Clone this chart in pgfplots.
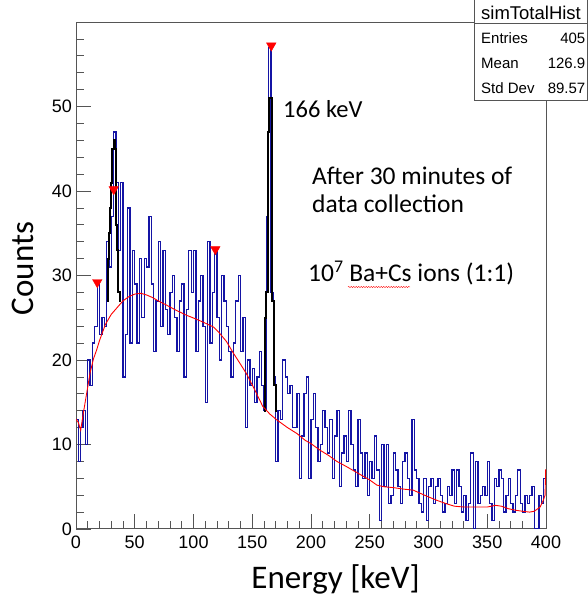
\documentclass[border=0pt]{standalone}
\usepackage{pgfplots}
\pgfplotsset{compat=1.18}
\usepackage{fontspec}
\setmainfont{Liberation Sans}
\newfontfamily\carlito{Carlito}
\usetikzlibrary{decorations.pathmorphing}
\definecolor{histblue}{RGB}{20,20,165}
\definecolor{framegray}{RGB}{85,85,85}
\begin{document}
\begin{tikzpicture}
\useasboundingbox (0,0) rectangle (588pt,600pt);
\begin{axis}[
  at={(76pt,71pt)}, anchor=south west, scale only axis,
  width=470pt, height=507pt,
  xmin=0, xmax=400, ymin=0, ymax=60,
  xtick={0,50,...,400}, ytick={0,10,...,50},
  minor xtick={10,20,...,390}, minor ytick={2,4,...,58},
  tick align=inside, xtick pos=bottom, ytick pos=left,
  major tick length=15pt, minor tick length=7.5pt,
  tick style={framegray, line width=0.8pt},
  axis line style={framegray, line width=1pt},
  /pgf/number format/assume math mode=true,
  tick label style={font=\fontsize{18}{18}\selectfont},
  xticklabel style={inner sep=0pt, yshift=-7pt},
  yticklabel style={inner sep=0pt, xshift=-4pt},
]
% measured histogram (2 keV bins, low edges)
\addplot[const plot mark left, histblue, line width=1.3pt] coordinates {
(0,13)(2,8)(4,12)(6,14)(8,10)(10,20)(12,17)(14,22)(16,24)(18,29)
(20,23)(22,25)(24,24)(26,34)(28,31)(30,37)(32,47)(34,41)(36,33)(38,41)
(40,18)(42,23)(44,38)(46,22)(48,33)(50,29)(52,22)(54,32)(56,25)(58,32)
(60,31)(62,37)(64,29)(66,21)(68,27)(70,34)(72,24)(74,33)(76,26)(78,23)
(80,28)(82,30)(84,25)(86,21)(88,27)(90,29)(92,18)(94,26)(96,33)(98,28)
(100,33)(102,21)(104,27)(106,30)(108,24)(110,15)(112,34)(114,22)(116,28)(118,33)
(120,25)(122,20)(124,30)(126,27)(128,24)(130,21)(132,18)(134,22)(136,27)(138,30)
(140,21)(142,25)(144,12)(146,20)(148,17)(150,19)(152,15)(154,18)(156,21)(158,17)
(160,14)(162,37)(164,57)(166,28)(168,18)(170,8)(172,14)(174,13)(176,20)(178,18)
(180,16)(182,17)(184,12)(186,12)(188,16)(190,6)(192,11)(194,16)(196,18)(198,6)
(200,13)(202,16)(204,12)(206,8)(208,10)(210,14)(212,12)(214,9)(216,13)(218,6)
(220,11)(222,14)(224,5)(226,9)(228,11)(230,8)(232,14)(234,10)(236,7)(238,5)
(240,13)(242,9)(244,6)(246,9)(248,4)(250,8)(252,6)(254,11)(256,7)(258,1)
(260,10)(262,5)(264,10)(266,3)(268,4)(270,9)(272,7)(274,5)(276,3)(278,8)
(280,9)(282,6)(284,4)(286,13)(288,7)(290,6)(292,3)(294,2)(296,6)(298,1)
(300,5)(302,6)(304,3)(306,5)(308,6)(310,4)(312,2)(314,3)(316,5)(318,4)
(320,7)(322,3)(324,7)(326,5)(328,2)(330,4)(332,1)(334,3)(336,9)(338,0)
(340,8)(342,3)(344,4)(346,5)(348,4)(350,8)(352,3)(354,1)(356,6)(358,5)
(360,7)(362,6)(364,2)(366,4)(368,6)(370,3)(372,2)(374,4)(376,7)(378,3)
(380,2)(382,4)(384,3)(386,4)(388,5)(390,0)(392,0)(394,4)(396,3)(398,6)
(400,6)};
% peak histograms
\addplot[const plot mark left, black, line width=2pt] coordinates {
(26,27)(27,32)(28,35)(29,38)(30,41)(31,45)(32,46)(33,45)(34,36)(35,33)(36,28)(37.5,27)(38,27)};
\addplot[const plot mark left, black, line width=2pt] coordinates {
(160,14)(161,25)(162,28)(163,37)(163.7,47)(164.5,51)(167,27)(168.5,17)(170,14)(171,14)};
% background
\addplot[red, line width=0.9pt] coordinates {
(0,13)(2,12.6)(4,11.7)(6,13.5)(9,16)(12,18.5)(15,20.2)(17.6,21.2)(20,22.3)(25,24.2)
(30,25.4)(35,26.2)(40,27)(45,27.5)(50,27.8)(55,27.9)(60,27.7)(65,27.4)(70,27.0)(77,26.5)
(85,25.9)(94,25.3)(103,24.8)(111,24.3)(117,23.9)(122,23.2)(128,22.2)(134,20.8)(140,19.5)(145,18.4)
(152,16.5)(159,14.5)(165,13.6)(171,12.9)(180,12.0)(188,11.3)(195,10.5)(200,10.1)(208,9.3)(215,8.7)
(222,8.0)(230,7.4)(240,6.6)(250,5.8)(256,5.2)(262,5.0)(270,4.9)(280,4.7)(287,4.6)(295,4.1)
(300,3.8)(307,3.4)(315,3.0)(322,2.7)(330,2.6)(340,2.6)(350,2.6)(357,2.8)(362,2.7)(368,2.4)
(375,2.2)(380,2.1)(386,2.0)(390,2.1)(395,2.6)(397.7,3.4)(399.2,4)(399.7,7)(400,7)};
% peak markers
\addplot[only marks, mark=triangle*, mark size=5.5pt, red,
  mark options={rotate=180, fill=red, draw=red}] coordinates {
(18.1,29.2)(32.1,40.2)(118.6,33.1)(166.2,57.2)};
\end{axis}
% stats box
\draw[framegray, line width=1pt, fill=white] (474.5pt,499pt) rectangle (587.5pt,601pt);
\draw[framegray, line width=1pt] (474.5pt,576pt) -- (587.5pt,576pt);
\node[anchor=base, inner sep=0pt, font=\fontsize{18.5}{18.5}\selectfont] at (531pt,580.5pt) {simTotalHist};
\node[anchor=base west, inner sep=0pt, font=\fontsize{15}{15}\selectfont] at (481pt,556pt) {Entries};
\node[anchor=base east, inner sep=0pt, font=\fontsize{15}{15}\selectfont] at (585.5pt,556pt) {405};
\node[anchor=base west, inner sep=0pt, font=\fontsize{15}{15}\selectfont] at (481pt,531pt) {Mean};
\node[anchor=base east, inner sep=0pt, font=\fontsize{15}{15}\selectfont] at (585.5pt,531pt) {126.9};
\node[anchor=base west, inner sep=0pt, font=\fontsize{15}{15}\selectfont] at (481pt,506.5pt) {Std Dev};
\node[anchor=base east, inner sep=0pt, font=\fontsize{15}{15}\selectfont] at (585.5pt,506.5pt) {89.57};
% annotations
\node[anchor=base west, inner sep=0pt, font=\carlito\fontsize{24.5}{24.5}\selectfont] at (283pt,482pt) {166 keV};
\node[anchor=base west, inner sep=0pt, font=\carlito\fontsize{25.5}{25.5}\selectfont] at (312pt,415pt) {After 30 minutes of};
\node[anchor=base west, inner sep=0pt, font=\carlito\fontsize{25.5}{25.5}\selectfont] at (312pt,387pt) {data collection};
\node[anchor=base west, inner sep=0pt, font=\carlito\fontsize{25.5}{25.5}\selectfont] at (308pt,318pt) {10\textsuperscript{7} Ba+Cs ions (1:1)};
\draw[red, line width=0.4pt, decorate, decoration={snake, amplitude=0.6pt, segment length=2.5pt}] (348pt,313pt) -- (410pt,313pt);
% axis titles
\node[anchor=base, inner sep=0pt, rotate=90, font=\carlito\fontsize{33}{33}\selectfont] at (33.5pt,331.5pt) {Counts};
\node[anchor=base, inner sep=0pt, font=\carlito\fontsize{33}{33}\selectfont] at (335.5pt,12pt) {Energy [keV]};
\end{tikzpicture}
\end{document}
